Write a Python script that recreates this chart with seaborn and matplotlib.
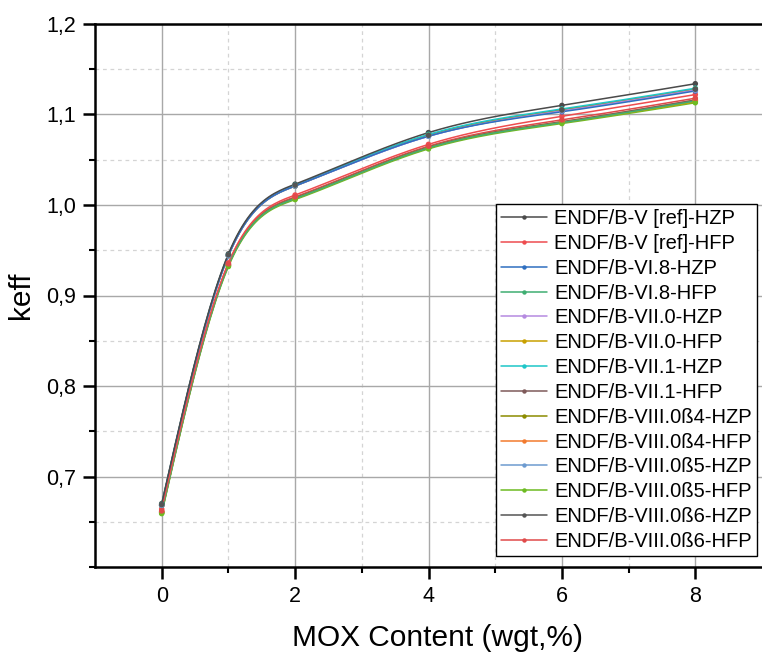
import numpy as np
import pandas as pd
import matplotlib
matplotlib.use("Agg")
import matplotlib.pyplot as plt
from matplotlib.lines import Line2D
from matplotlib.ticker import MultipleLocator, FixedLocator
import seaborn as sns

# MOX content (wgt %) and k-eff per nuclear data library / core state
mox = [0, 1, 2, 4, 6, 8]

labels = [
    "ENDF/B-V [ref]-HZP", "ENDF/B-V [ref]-HFP",
    "ENDF/B-VI.8-HZP", "ENDF/B-VI.8-HFP",
    "ENDF/B-VII.0-HZP", "ENDF/B-VII.0-HFP",
    "ENDF/B-VII.1-HZP", "ENDF/B-VII.1-HFP",
    "ENDF/B-VIII.0ß4-HZP", "ENDF/B-VIII.0ß4-HFP",
    "ENDF/B-VIII.0ß5-HZP", "ENDF/B-VIII.0ß5-HFP",
    "ENDF/B-VIII.0ß6-HZP", "ENDF/B-VIII.0ß6-HFP",
]

v_hzp = [0.670, 0.946, 1.023, 1.080, 1.110, 1.134]
v_hfp = [0.664, 0.936, 1.011, 1.067, 1.098, 1.122]
vi8_hzp = [0.668, 0.944, 1.021, 1.076, 1.103, 1.126]
vi8_hfp = [0.660, 0.933, 1.007, 1.063, 1.091, 1.115]
vii0_hzp = [0.668, 0.944, 1.021, 1.076, 1.104, 1.127]
vii0_hfp = [0.660, 0.933, 1.007, 1.063, 1.091, 1.114]
vii1_hzp = [0.669, 0.945, 1.022, 1.078, 1.106, 1.129]
vii1_hfp = [0.661, 0.934, 1.008, 1.064, 1.092, 1.116]
viii4_hzp = [0.668, 0.944, 1.021, 1.077, 1.105, 1.128]
viii4_hfp = [0.661, 0.934, 1.008, 1.064, 1.092, 1.116]
viii5_hzp = [0.668, 0.944, 1.021, 1.076, 1.104, 1.127]
viii5_hfp = [0.659, 0.932, 1.006, 1.062, 1.090, 1.113]
viii6_hzp = [0.669, 0.945, 1.022, 1.077, 1.105, 1.128]
viii6_hfp = [0.662, 0.935, 1.009, 1.065, 1.094, 1.118]

series = [v_hzp, v_hfp, vi8_hzp, vi8_hfp, vii0_hzp, vii0_hfp, vii1_hzp,
          vii1_hfp, viii4_hzp, viii4_hfp, viii5_hzp, viii5_hfp,
          viii6_hzp, viii6_hfp]

colors = ["#4a4a4a", "#ee4c4f", "#2f6fc0", "#3fae72", "#b58ae0", "#c9a000",
          "#1ec6c8", "#7f5a5a", "#8c8c00", "#f27a2e", "#6d9bd0", "#6dbb22",
          "#555555", "#e04a4a"]

ytick_vals = [0.7, 0.8, 0.9, 1.0, 1.1, 1.2]
ytick_labels = ["0,7", "0,8", "0,9", "1,0", "1,1", "1,2"]
xtick_vals = [0, 2, 4, 6, 8]


def natural_spline(x, y, n=200):
    """Smooth connecting curve (natural cubic spline) through the points."""
    x = np.asarray(x, float)
    y = np.asarray(y, float)
    k = len(x)
    h = np.diff(x)
    A = np.zeros((k, k))
    r = np.zeros(k)
    A[0, 0] = A[-1, -1] = 1.0
    for i in range(1, k - 1):
        A[i, i - 1] = h[i - 1]
        A[i, i] = 2 * (h[i - 1] + h[i])
        A[i, i + 1] = h[i]
        r[i] = 3 * ((y[i + 1] - y[i]) / h[i] - (y[i] - y[i - 1]) / h[i - 1])
    c = np.linalg.solve(A, r)
    b = (np.diff(y) / h) - h * (2 * c[:-1] + c[1:]) / 3
    d = np.diff(c) / (3 * h)
    xs = np.linspace(x[0], x[-1], n)
    idx = np.clip(np.searchsorted(x, xs, side="right") - 1, 0, k - 2)
    dx = xs - x[idx]
    ys = y[idx] + b[idx] * dx + c[idx] * dx ** 2 + d[idx] * dx ** 3
    return xs, ys


sns.set_theme(style="white")
plt.rcParams["font.family"] = ["Liberation Sans", "DejaVu Sans"]
plt.rcParams["text.color"] = "black"
plt.rcParams["axes.labelcolor"] = "black"
plt.rcParams["xtick.color"] = "black"
plt.rcParams["ytick.color"] = "black"

fig = plt.figure(figsize=(7.62, 6.53), dpi=100)
ax = fig.add_axes([95 / 762, 86 / 653, 667 / 762, 543 / 653])

long = pd.DataFrame({
    "mox": np.tile(mox, len(labels)),
    "keff": np.concatenate(series),
    "lib": np.repeat(labels, len(mox)),
})

# curves drawn last-to-first so the earlier libraries sit on top
for lab, col in reversed(list(zip(labels, colors))):
    sub = long[long["lib"] == lab]
    xs, ys = natural_spline(sub["mox"].values, sub["keff"].values)
    ax.plot(xs, ys, color=col, lw=1.1, zorder=3)

sns.scatterplot(data=long, x="mox", y="keff", hue="lib", palette=colors,
                hue_order=labels, s=16, edgecolor="none", legend=False,
                ax=ax, zorder=4)

ax.set_xlim(-1, 9)
ax.set_ylim(0.6, 1.2)
ax.xaxis.set_major_locator(FixedLocator(xtick_vals))
ax.xaxis.set_minor_locator(FixedLocator([1, 3, 5, 7]))
ax.set_yticks(ytick_vals)
ax.set_yticklabels(ytick_labels)
ax.yaxis.set_minor_locator(MultipleLocator(0.05))

ax.grid(which="major", color="#a8a8a8", lw=1.0, ls="-")
ax.grid(which="minor", color="#d4d4d4", lw=0.9, ls=(0, (3, 3)))
ax.set_axisbelow(True)

for side in ["left", "bottom", "top"]:
    ax.spines[side].set_visible(True)
    ax.spines[side].set_color("black")
    ax.spines[side].set_linewidth(1.8)
ax.spines["right"].set_visible(False)

ax.tick_params(axis="both", which="major", direction="out", length=8.5,
               width=1.8, labelsize=15.5, pad=5,
               bottom=True, left=True, top=False, right=False)
ax.tick_params(axis="both", which="minor", direction="out", length=4.5,
               width=1.5,
               bottom=True, left=True, top=False, right=False)

ax.set_xlabel("MOX Content (wgt,%)", fontsize=21.5, labelpad=14)
ax.xaxis.set_label_coords((438 - 95) / 667, -0.105)
ax.set_ylabel("keff", fontsize=21.5, labelpad=8)

handles = [Line2D([0], [0], color=c, lw=1.1, marker="o", markersize=3.2,
                  markeredgewidth=0) for c in colors]
leg = ax.legend(handles, labels, loc="upper left",
                bbox_to_anchor=((496 - 95) / 667, (567 - 204) / 543),
                fontsize=14.5, frameon=True, fancybox=False, framealpha=1,
                edgecolor="black", handlelength=2.3, handletextpad=0.35,
                labelspacing=0.29, borderpad=0.25, borderaxespad=0)
leg.get_frame().set_linewidth(1.0)

fig.savefig("out.png", dpi=100)
